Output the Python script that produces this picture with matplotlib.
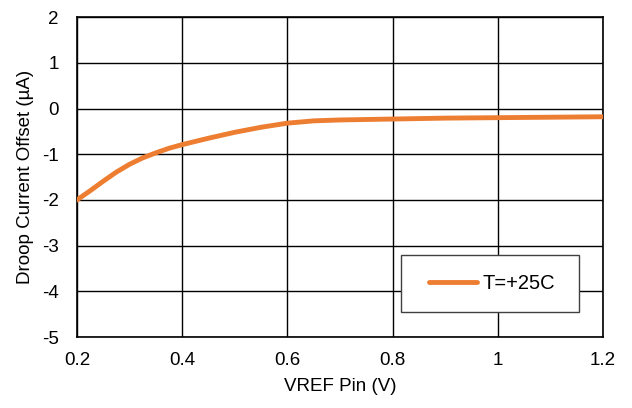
import matplotlib.pyplot as plt
from matplotlib import rcParams
from matplotlib.patches import Rectangle

rcParams['font.family'] = ['Liberation Sans', 'DejaVu Sans']
rcParams['axes.unicode_minus'] = False

# droop current offset vs VREF pin voltage, T=+25C
vref = [0.2, 0.225, 0.25, 0.275, 0.3, 0.325, 0.35, 0.375, 0.4, 0.45, 0.5, 0.55,
        0.6, 0.65, 0.7, 0.8, 0.9, 1.0, 1.1, 1.2]
offset = [-2.0, -1.80, -1.59, -1.39, -1.22, -1.08, -0.97, -0.87, -0.79, -0.65, -0.52,
          -0.41, -0.32, -0.27, -0.25, -0.23, -0.21, -0.20, -0.19, -0.18]
xticks = [0.2, 0.4, 0.6, 0.8, 1, 1.2]
xticklabels = ['0.2', '0.4', '0.6', '0.8', '1', '1.2']
yticks = [-5, -4, -3, -2, -1, 0, 1, 2]

fig = plt.figure(figsize=(6.32, 4.08), dpi=100)
ax = fig.add_axes([0.1218, 0.174, 0.8322, 0.784])

ax.plot(vref, offset, color='#ED7D31', linewidth=3.5, solid_capstyle='round',
        solid_joinstyle='round', label='T=+25C', zorder=3)

ax.set_xlim(0.2, 1.2)
ax.set_ylim(-5, 2)
ax.set_xticks(xticks)
ax.set_xticklabels(xticklabels)
ax.set_yticks(yticks)
ax.tick_params(length=0, labelsize=13.5)
ax.tick_params(axis='x', pad=11)
ax.tick_params(axis='y', pad=13)
ax.grid(True, color='black', linewidth=1)
for s in ax.spines.values():
    s.set_color('black')
    s.set_linewidth(1.2)

ax.set_xlabel('VREF Pin (V)', fontsize=13.5, labelpad=6)
ax.set_ylabel('Droop Current Offset (µA)', fontsize=13.5, labelpad=6)

# legend frame drawn separately so the entry can sit centred in a wide box
ax.add_patch(Rectangle((0.616, 0.078), 0.338, 0.178, transform=ax.transAxes,
                       facecolor='white', edgecolor='#404040', linewidth=1, zorder=4))
ax.legend(loc='center', bbox_to_anchor=(0.789, 0.167), frameon=False,
          fontsize=14.5, handlelength=2.4, handletextpad=0.25, borderpad=0)

fig.savefig('out.png', dpi=100)
